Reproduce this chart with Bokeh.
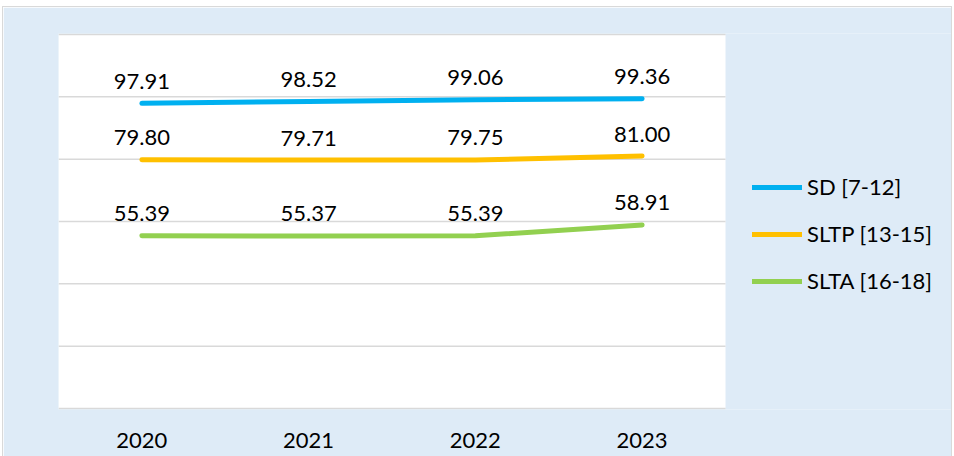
from bokeh.plotting import figure
from bokeh.models import Range1d, FixedTicker, Legend, LegendItem, ColumnDataSource, BoxAnnotation
from bokeh.embed import file_html
from bokeh.resources import INLINE
from bokeh.core.properties import value

years = ["2020", "2021", "2022", "2023"]
sd = [97.91, 98.52, 99.06, 99.36]
sltp = [79.80, 79.71, 79.75, 81.00]
slta = [55.39, 55.37, 55.39, 58.91]
series_names = ["SD [7-12]", "SLTP [13-15]", "SLTA [16-18]"]
series_values = [sd, sltp, slta]
colors = ["#00B0F0", "#FFC000", "#92D050"]
y_ticks = [0, 20, 40, 60, 80, 100, 120]

FONT = "Lato"
BG = "#DEEBF7"

n = len(years)
xpos = [i + 0.5 for i in range(n)]          # category centres
plot_px = 667.0                             # width of the white plot area
frame_px = 948 - 55                         # frame runs to the right edge
x_end = n * frame_px / plot_px

# one extra pixel above and below so edge gridlines are not clipped
px_per_unit = 374.0 / (y_ticks[-1] - y_ticks[0])
pad = 1.0 / px_per_unit

# figure placed at (3, 7) of the page; frame at x 58..951, y 33..409
p = figure(width=948, height=449, x_range=Range1d(0, x_end),
           y_range=Range1d(y_ticks[0] - pad, y_ticks[-1] + pad),
           output_backend="svg", toolbar_location=None,
           min_border_left=55, min_border_right=0, min_border_top=26,
           min_border_bottom=47)
p.styles = {"margin-left": "3px", "margin-top": "7px",
            "outline": "1px solid #D9D9D9"}

p.border_fill_color = BG
p.background_fill_color = BG
p.outline_line_color = None

# white plot area
p.add_layout(BoxAnnotation(left=0, right=n, bottom=y_ticks[0], top=y_ticks[-1],
                           fill_color="#FFFFFF", fill_alpha=1.0, line_color=None,
                           level="underlay"))

p.yaxis.visible = False
p.xgrid.visible = False
p.ygrid.visible = False

# horizontal gridlines limited to the plot area
p.segment(x0=[0] * len(y_ticks), x1=[n] * len(y_ticks), y0=y_ticks, y1=y_ticks,
          line_color="#D9D9D9", line_width=1.5)

p.xaxis.ticker = FixedTicker(ticks=xpos)
p.xaxis.major_label_overrides = {x: y for x, y in zip(xpos, years)}
p.xaxis.axis_line_color = None
p.xaxis.major_tick_line_color = None
p.xaxis.minor_tick_line_color = None
p.xaxis.major_label_text_font = FONT
p.xaxis.major_label_text_font_size = "22px"
p.xaxis.major_label_text_color = "#000000"
p.xaxis.major_label_standoff = 17

items = []
for name, vals, col in zip(series_names, series_values, colors):
    src = ColumnDataSource(dict(x=xpos, y=vals, t=["%.2f" % v for v in vals]))
    r = p.line("x", "y", source=src, line_color=col, line_width=5,
               line_cap="round", line_join="round")
    p.text("x", "y", text="t", source=src, text_font=value(FONT),
           text_font_size="22px", text_color="#000000", text_align="center",
           text_baseline="alphabetic", y_offset=-22)
    items.append(LegendItem(label=name, renderers=[r]))

legend = Legend(items=items, location=(694, 115), orientation="vertical",
                glyph_width=50, glyph_height=26, label_height=26,
                spacing=20, padding=0, margin=0, label_standoff=5,
                label_text_font=FONT, label_text_font_size="22px",
                label_text_color="#000000",
                background_fill_alpha=0, border_line_color=None)
p.add_layout(legend, "center")

open("out.html", "w").write(file_html(p, INLINE))
